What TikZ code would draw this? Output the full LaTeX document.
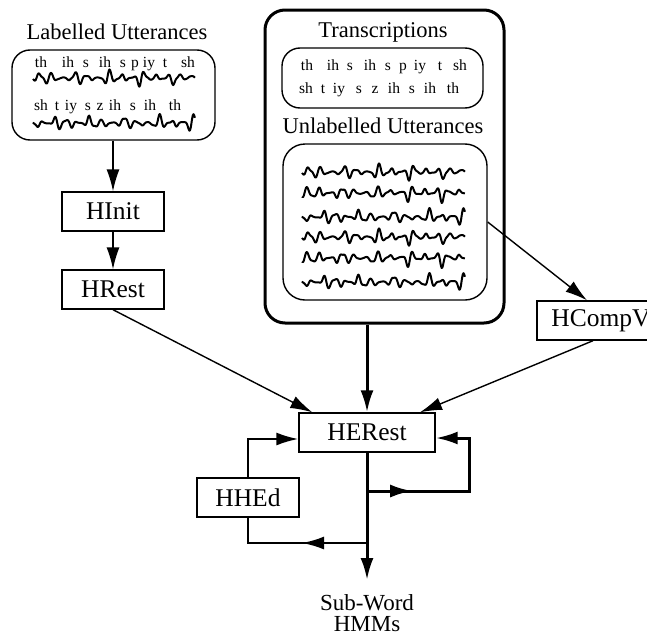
\documentclass[tikz,border=0pt]{standalone}
\usepackage{fontspec}
\setmainfont{Liberation Serif}
\usetikzlibrary{arrows.meta,decorations.markings}

% a bursty speech waveform: start x, centre y, length, phase
\newcommand\speechwave[4]{%
  \draw[wave] plot[smooth, domain=0:1, samples=240, variable=\t]
    ({#1+#3*\t}, {#2+(0.6+6*pow(sin(\t*900+#4),4)+3.5*pow(sin(\t*1700+2*#4),4))*(0.75*sin(\t*5000+3*#4)+0.3*sin(\t*8900+#4))});}

\begin{document}
\begin{tikzpicture}[x=1pt,y=-1pt,
  thinline/.style={line width=1.4pt},
  thickline/.style={line width=3pt},
  arrowed/.style={-{Latex[length=22pt,width=13pt]}},
  midtip/.style={postaction={decorate},
    decoration={markings, mark=at position #1 with {\arrow{Latex[length=22pt,width=13pt]}}}},
  tool/.style={draw, line width=1.4pt, minimum height=39pt, inner sep=0pt,
    font=\fontsize{25.5}{28}\selectfont},
  heading/.style={anchor=base, inner sep=0pt, font=\fontsize{22.5}{26}\selectfont},
  phone/.style={anchor=base, inner sep=0pt, font=\fontsize{15.5}{18}\selectfont},
  result/.style={anchor=base, inner sep=0pt, font=\fontsize{23}{26}\selectfont},
  panel/.style={draw, line width=1.4pt, inner sep=0pt},
  wave/.style={line width=2pt, line join=round}
]
\useasboundingbox (0,0) rectangle (647,637);
\clip (0,0) rectangle (647,637);

% labelled data
\node[heading] (labtitle) at (117,39) {Labelled Utterances};
\node[panel, rounded corners=18pt, minimum width=203pt, minimum height=90pt] (lab) at (113.5,95) {};
\foreach \w/\x [count=\i] in {th/41, ih/68, s/86, ih/105, s/123, p/135, iy/149, t/165, sh/188}
  \node[phone] (la\i) at (\x,67) {\w};
\foreach \w/\x [count=\i] in {sh/41, t/57, iy/71, s/88, z/100, ih/115, s/133, ih/150, th/175}
  \node[phone] (lb\i) at (\x,110) {\w};
\speechwave{33}{78}{162}{20}
\speechwave{33}{123}{162}{110}

% unlabelled data with transcriptions
\node[draw, line width=3pt, rounded corners=20pt, minimum width=239pt, minimum height=313pt, inner sep=0pt] (trainset) at (384.5,166.5) {};
\node[heading] (trtitle) at (383,37) {Transcriptions};
\node[panel, rounded corners=18pt, minimum width=201pt, minimum height=60pt] (trans) at (382.5,78) {};
\foreach \w/\x [count=\i] in {th/307, ih/333, s/350, ih/370, s/388, p/403, iy/420, t/440, sh/460}
  \node[phone] (ta\i) at (\x,70) {\w};
\foreach \w/\x [count=\i] in {sh/306, t/323, iy/339, s/359, z/375, ih/394, s/412, ih/430, th/453}
  \node[phone] (tb\i) at (\x,93) {\w};
\node[heading] (untitle) at (383,133) {Unlabelled Utterances};
\node[panel, rounded corners=22pt, minimum width=204pt, minimum height=156pt] (wavebox) at (385,222) {};
\speechwave{302}{172}{163}{20}
\speechwave{302}{193}{163}{35}
\speechwave{302}{217}{163}{110}
\speechwave{302}{237}{163}{20}
\speechwave{302}{258}{163}{35}
\speechwave{302}{282}{163}{110}

% tools
\node[tool, minimum width=102pt] (hinit) at (113,211.5) {HInit};
\node[tool, minimum width=102pt] (hrest) at (113,289.5) {HRest};
\node[tool, minimum width=128pt] (hcompv) at (601,320.5) {HCompV};
\node[tool, minimum width=136pt] (herest) at (367,432.5) {HERest};
\node[tool, minimum width=102pt] (hhed) at (248,497.5) {HHEd};
\node[result] (subword) at (367,610) {Sub-Word};
\node[result] (hmms) at (367,631) {HMMs};

% connectors
\draw[thinline, arrowed] (hinit.north |- lab.south) -- (hinit.north);
\draw[thinline, arrowed] (hinit) -- (hrest);
\draw[thinline, arrowed] (hrest.south) -- ([xshift=14pt]herest.north west);
\draw[thinline, arrowed] (wavebox.east) -- ([xshift=-14pt]hcompv.north);
\draw[thinline, arrowed] ([xshift=-8pt]hcompv.south) -- ([xshift=53pt]herest.north);
\draw[thickline, arrowed] (herest.north |- trainset.south) -- (herest.north);

\coordinate (hmmout) at (367,580);
\coordinate (forkR) at (367,491);
\coordinate (loopR) at (469,491);
\coordinate (forkL) at (367,543);
\draw[thickline, arrowed] (herest.south) -- (hmmout);
\draw[thickline, arrowed, midtip=0.24] (forkR) -- (loopR) |- ([yshift=-5.5pt]herest.east);
\draw[line width=2pt, midtip=0.45] (forkL) -| (hhed.south);
\draw[line width=2pt, arrowed] (hhed.north) |- ([yshift=-6.5pt]herest.west);
\end{tikzpicture}
\end{document}
